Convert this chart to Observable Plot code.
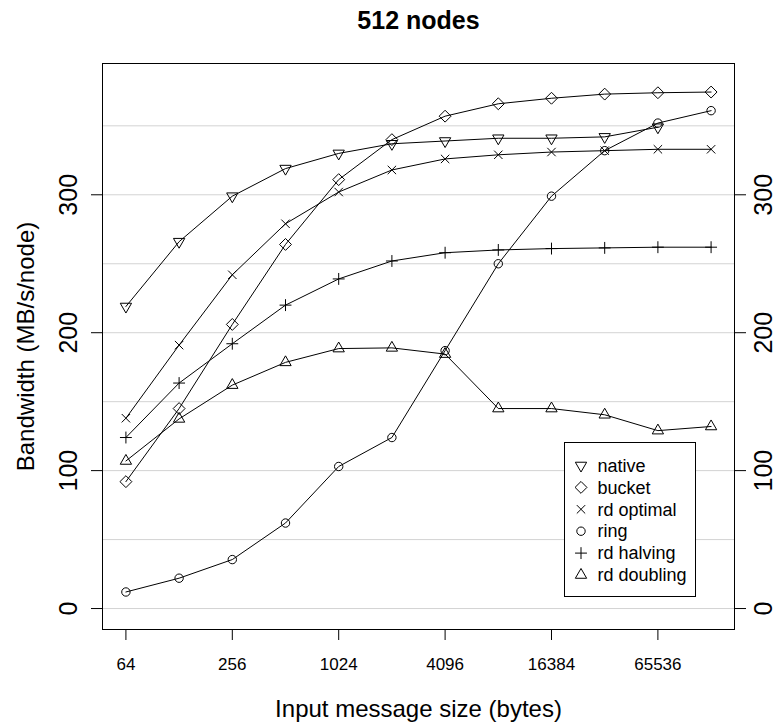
<!DOCTYPE html>
<html>
<head>
<meta charset="utf-8">
<script src="https://cdn.jsdelivr.net/npm/d3@7"></script>
<script src="https://cdn.jsdelivr.net/npm/@observablehq/plot@0.6"></script>
<style>
  body { margin: 0; background: #fff; }
  #chart svg { display: block; }
</style>
</head>
<body>
<div id="chart"></div>
<script>
// ---- data ----
const sizes = [64, 128, 256, 512, 1024, 2048, 4096, 8192, 16384, 32768, 65536, 131072];
const xTickValues = [64, 256, 1024, 4096, 16384, 65536];
const yTickValues = [0, 100, 200, 300];
const gridValues = [0, 50, 100, 150, 200, 250, 300, 350];
const seriesNames = ["native", "bucket", "rd optimal", "ring", "rd halving", "rd doubling"];

const nativeBw     = [219, 266, 299, 319, 330, 337, 339, 341, 341, 342, 349];
const bucketBw     = [92, 145, 206, 264, 311, 340, 357, 366, 370, 373, 374, 374.5];
const rdOptimalBw  = [138, 191, 242, 279, 302, 318, 326, 329, 331, 332, 333, 333];
const ringBw       = [12, 22, 35.5, 62, 103, 124, 187, 250, 299, 332, 352, 361];
const rdHalvingBw  = [124, 163.5, 192, 220, 239, 252, 258, 260, 261, 261.5, 262, 262];
const rdDoublingBw = [107, 137.5, 162, 178.5, 188.5, 189, 184.5, 145, 145, 140.5, 129, 132];

const titleText = "512 nodes";
const xLabel = "Input message size (bytes)";
const yLabel = "Bandwidth (MB/s/node)";

const seriesValues = [nativeBw, bucketBw, rdOptimalBw, ringBw, rdHalvingBw, rdDoublingBw];

// tidy table built from the arrays
const rows = [];
seriesNames.forEach((name, k) => {
  seriesValues[k].forEach((v, i) => rows.push({series: name, size: sizes[i], value: v}));
});

// ---- R-like symbols ----
const XC = 4.2;
const TRC0 = 1.5551, TRC1 = 1.3468;
const symDown = {draw(c) { const r = TRC0 * XC, h = TRC1 * XC; c.moveTo(0, r); c.lineTo(h, -r / 2); c.lineTo(-h, -r / 2); c.closePath(); }};
const symUp = {draw(c) { const r = TRC0 * XC, h = TRC1 * XC; c.moveTo(0, -r); c.lineTo(h, r / 2); c.lineTo(-h, r / 2); c.closePath(); }};
const symDiamond = {draw(c) { const d = Math.SQRT2 * XC; c.moveTo(0, -d); c.lineTo(d, 0); c.lineTo(0, d); c.lineTo(-d, 0); c.closePath(); }};
const symTimes = {draw(c) { const d = XC; c.moveTo(-d, -d); c.lineTo(d, d); c.moveTo(-d, d); c.lineTo(d, -d); }};
const symCircle = {draw(c) { c.moveTo(XC, 0); c.arc(0, 0, XC, 0, 2 * Math.PI); }};
const symPlus = {draw(c) { const d = Math.SQRT2 * XC; c.moveTo(-d, 0); c.lineTo(d, 0); c.moveTo(0, -d); c.lineTo(0, d); }};
const seriesSymbols = [symDown, symDiamond, symTimes, symCircle, symPlus, symUp];

const W = 776, H = 724;
const mL = 102, mR = 42, mT = 63, mB = 95;
const FONT = '"Liberation Sans", Arial, Helvetica, sans-serif';

const dotMarks = seriesNames.map((name, k) =>
  Plot.dot(rows.filter(d => d.series === name), {
    x: "size", y: "value", symbol: seriesSymbols[k],
    stroke: "black", fill: "none", strokeWidth: 1
  })
);

const plot = Plot.plot({
  width: W, height: H,
  marginLeft: mL, marginRight: mR, marginTop: mT, marginBottom: mB,
  style: {fontFamily: FONT, background: "white", color: "black", overflow: "visible"},
  x: {type: "log", base: 2, domain: [Math.pow(2, 5.56), Math.pow(2, 17.44)]},
  y: {domain: [-15.2, 395.2]},
  marks: [
    Plot.ruleY(gridValues, {stroke: "#d3d3d3", strokeWidth: 1}),
    Plot.line(rows, {x: "size", y: "value", z: "series", stroke: "black", strokeWidth: 1}),
    ...dotMarks,
    Plot.frame({stroke: "black", strokeWidth: 1}),
    Plot.axisX({ticks: xTickValues, tickSize: 11, tickPadding: 17, tickFormat: d => String(d),
                fontSize: 17, label: null, stroke: "black"}),
    Plot.axisY({anchor: "left", ticks: yTickValues, tickSize: 11, tickFormat: () => "", label: null, stroke: "black"}),
    Plot.axisY({anchor: "right", ticks: yTickValues, tickSize: 11, tickFormat: () => "", label: null, stroke: "black"}),
    Plot.text(yTickValues, {y: d => d, text: d => String(d), frameAnchor: "left", dx: -25.5,
                            rotate: -90, lineAnchor: "bottom", textAnchor: "middle", fontSize: 25, fill: "black"}),
    Plot.text(yTickValues, {y: d => d, text: d => String(d), frameAnchor: "right", dx: 20,
                            rotate: -90, lineAnchor: "top", textAnchor: "middle", fontSize: 25, fill: "black"}),
    Plot.text([titleText], {text: d => d, frameAnchor: "top", dy: -34.7, lineAnchor: "bottom",
                            fontSize: 25, fontWeight: "bold", fill: "black"}),
    Plot.text([xLabel], {text: d => d, frameAnchor: "bottom", dy: 87.7, lineAnchor: "bottom",
                         fontSize: 24, fill: "black"}),
    Plot.text([yLabel], {text: d => d, frameAnchor: "left", dx: -69, rotate: -90, lineAnchor: "bottom",
                         textAnchor: "middle", fontSize: 24, fill: "black"})
  ]
});

// ---- legend (inside the plot, bottom right) ----
const svg = d3.select(plot);
const lg = svg.append("g").attr("font-family", FONT).attr("font-size", 18).attr("text-anchor", "start");
const boxX = 564.5, boxY = 442.5, boxW = 131, boxH = 154;
lg.append("rect").attr("x", boxX).attr("y", boxY).attr("width", boxW).attr("height", boxH)
  .attr("fill", "white").attr("stroke", "black").attr("stroke-width", 1);
const row0 = 465.5, rowStep = 21.9;
seriesNames.forEach((name, k) => {
  const yy = row0 + k * rowStep;
  lg.append("path").attr("d", d3.symbol(seriesSymbols[k], 64)())
    .attr("transform", `translate(${581},${yy})`)
    .attr("fill", "none").attr("stroke", "black").attr("stroke-width", 1);
  lg.append("text").attr("x", 597.5).attr("y", yy + 6.2).attr("fill", "black")
    .attr("text-anchor", "start").text(name);
});

document.getElementById("chart").appendChild(plot);
</script>
</body>
</html>
